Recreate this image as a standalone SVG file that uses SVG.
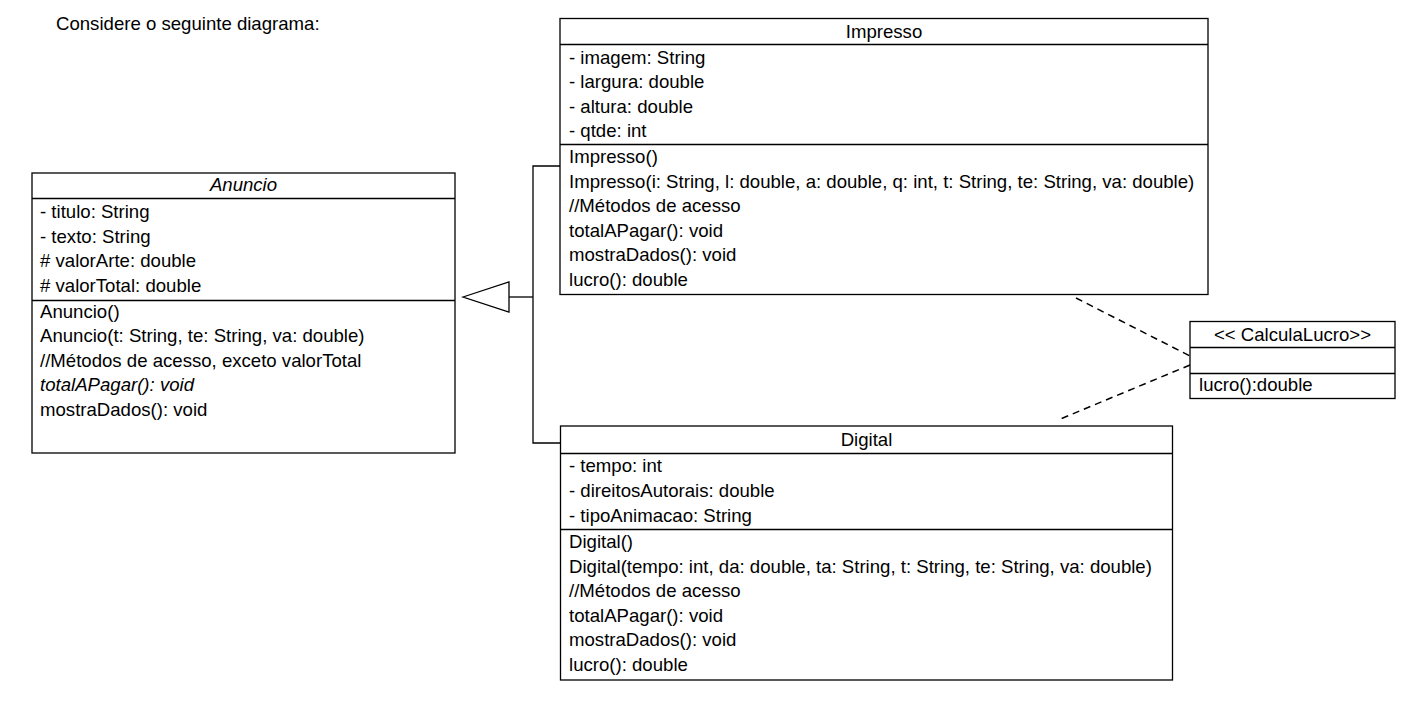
<svg xmlns="http://www.w3.org/2000/svg" width="1409" height="716" viewBox="0 0 1409 716">
<style>
text{font-family:"Liberation Sans",Arial,sans-serif;font-size:18.6px;fill:#000}
.t{text-anchor:middle}
.i{font-style:italic}
.box{fill:#fff;stroke:#000;stroke-width:1.3}
.sep{stroke:#000;stroke-width:1.3}
.ln{fill:none;stroke:#000;stroke-width:1.3}
.dash{fill:none;stroke:#000;stroke-width:1.5;stroke-dasharray:7 5}
</style>
<rect width="1409" height="716" fill="#fff"/>
<text x="56" y="30">Considere o seguinte diagrama:</text>
<g id="connectors">
<polyline class="ln" points="560,166 533,166 533,443 560,443"/>
<line class="ln" x1="509" y1="297" x2="533" y2="297"/>
<polygon class="box" points="463,297 509,282 509,312"/>
<line class="dash" x1="1076" y1="298" x2="1190" y2="356"/>
<line class="dash" x1="1190" y1="365" x2="1058" y2="420"/>
</g>
<g id="Anuncio">
<rect class="box" x="32" y="173" width="423" height="280"/>
<line class="sep" x1="32" y1="198.5" x2="455" y2="198.5"/>
<line class="sep" x1="32" y1="300.5" x2="455" y2="300.5"/>
<text class="t i" x="243.5" y="190.5">Anuncio</text>
<text x="40" y="218">- titulo: String</text>
<text x="40" y="242.5">- texto: String</text>
<text x="40" y="267">&#35; valorArte: double</text>
<text x="40" y="291.5">&#35; valorTotal: double</text>
<text x="40" y="317.5">Anuncio()</text>
<text x="40" y="342">Anuncio(t: String, te: String, va: double)</text>
<text x="40" y="366.5">//Métodos de acesso, exceto valorTotal</text>
<text class="i" x="40" y="391">totalAPagar(): void</text>
<text x="40" y="415.5">mostraDados(): void</text>
</g>
<g id="Impresso">
<rect class="box" x="560" y="18.5" width="648" height="276"/>
<line class="sep" x1="560" y1="44.5" x2="1208" y2="44.5"/>
<line class="sep" x1="560" y1="144.5" x2="1208" y2="144.5"/>
<text class="t" x="884" y="37.5">Impresso</text>
<text x="569" y="63.5">- imagem: String</text>
<text x="569" y="88">- largura: double</text>
<text x="569" y="112.5">- altura: double</text>
<text x="569" y="137">- qtde: int</text>
<text x="569" y="163">Impresso()</text>
<text x="569" y="187.5">Impresso(i: String, l: double, a: double, q: int, t: String, te: String, va: double)</text>
<text x="569" y="212">//Métodos de acesso</text>
<text x="569" y="236.5">totalAPagar(): void</text>
<text x="569" y="261">mostraDados(): void</text>
<text x="569" y="285.5">lucro(): double</text>
</g>
<g id="Digital">
<rect class="box" x="560.5" y="426" width="612" height="254"/>
<line class="sep" x1="560.5" y1="453.5" x2="1172.5" y2="453.5"/>
<line class="sep" x1="560.5" y1="529.5" x2="1172.5" y2="529.5"/>
<text class="t" x="866.5" y="445.5">Digital</text>
<text x="569" y="471.5">- tempo: int</text>
<text x="569" y="496.5">- direitosAutorais: double</text>
<text x="569" y="521.5">- tipoAnimacao: String</text>
<text x="569" y="547.5">Digital()</text>
<text x="569" y="572.5">Digital(tempo: int, da: double, ta: String, t: String, te: String, va: double)</text>
<text x="569" y="597">//Métodos de acesso</text>
<text x="569" y="621.5">totalAPagar(): void</text>
<text x="569" y="646">mostraDados(): void</text>
<text x="569" y="670.5">lucro(): double</text>
</g>
<g id="CalculaLucro">
<rect class="box" x="1190" y="321.5" width="205" height="77"/>
<line class="sep" x1="1190" y1="347.5" x2="1395" y2="347.5"/>
<line class="sep" x1="1190" y1="373.5" x2="1395" y2="373.5"/>
<text class="t" x="1292.5" y="340.5">&lt;&lt; CalculaLucro&gt;&gt;</text>
<text x="1199" y="391">lucro():double</text>
</g>
</svg>
